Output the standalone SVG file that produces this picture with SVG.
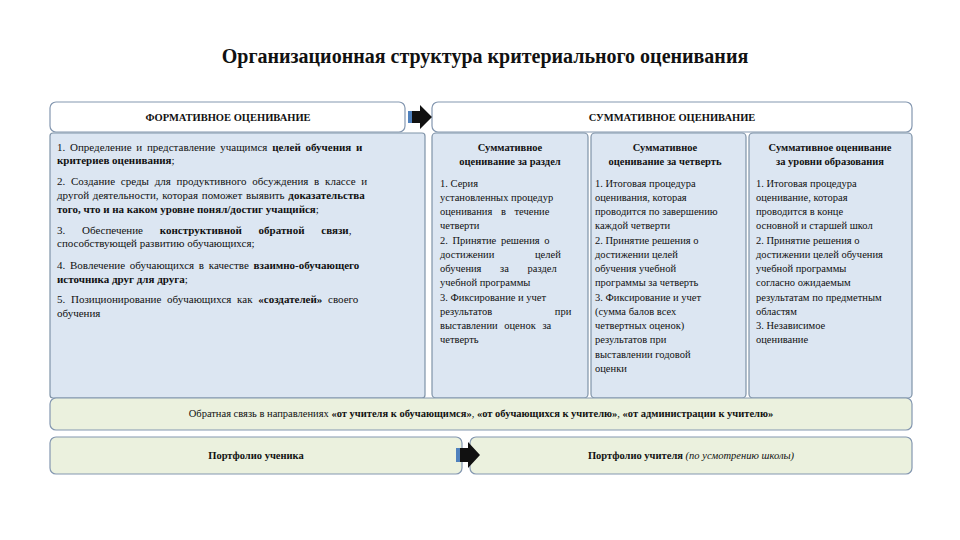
<svg xmlns="http://www.w3.org/2000/svg" width="960" height="540" viewBox="0 0 960 540" font-family="'Liberation Serif', 'DejaVu Serif', serif">
<style>
text{font-family:'Liberation Serif','DejaVu Serif',serif;font-size:10.5px;fill:#111}
.f{font-size:11px}
.b{font-weight:bold}
.hd{fill:#fff;stroke:#8497b0;stroke-width:1.2}
.bl{fill:#dce6f2;stroke:#7f93a8;stroke-width:1.2}
.gr{fill:#ebf1de;stroke:#8497b0;stroke-width:1.2}
.c{text-anchor:middle}
</style>
<rect width="960" height="540" fill="#fff"/>
<text x="485" y="63" class="b c" style="font-size:20px">Организационная структура критериального оценивания</text>
<g id="formative-header"><rect class="hd" x="50" y="102" width="355" height="30" rx="6"/><text x="228" y="121" class="b c">ФОРМАТИВНОЕ ОЦЕНИВАНИЕ</text></g>
<g id="summative-header"><rect class="hd" x="432" y="102" width="480" height="30" rx="6"/><text x="672" y="121" class="b c">СУММАТИВНОЕ ОЦЕНИВАНИЕ</text></g>
<g id="formative-body"><rect class="bl" x="50" y="133" width="375" height="265" rx="3"/>
<text x="57" y="151" class="f" word-spacing="2">1. Определение и представление учащимся <tspan class="b">целей обучения и</tspan></text>
<text x="57" y="164" class="b f">критериев оценивания<tspan font-weight="normal">;</tspan></text>
<text x="57" y="185" class="f" word-spacing="3">2. Создание среды для продуктивного обсуждения в классе и</text>
<text x="57" y="199" class="f" word-spacing="1">другой деятельности, которая поможет выявить <tspan class="b">доказательства</tspan></text>
<text x="57" y="213" class="b f">того, что и на каком уровне понял/достиг учащийся<tspan font-weight="normal">;</tspan></text>
<text x="57" y="234" class="f" word-spacing="14">3. Обеспечение <tspan class="b">конструктивной обратной связи</tspan>,</text>
<text x="57" y="247" class="f">способствующей развитию обучающихся;</text>
<text x="57" y="269" class="f" word-spacing="2">4. Вовлечение обучающихся в качестве <tspan class="b">взаимно-обучающего</tspan></text>
<text x="57" y="283" class="b f">источника друг для друга<tspan font-weight="normal">;</tspan></text>
<text x="57" y="303" class="f" word-spacing="3">5. Позиционирование обучающихся как <tspan class="b">«создателей»</tspan> своего</text>
<text x="57" y="317" class="f">обучения</text></g>
<g id="col-razdel"><rect class="bl" x="432" y="133" width="156" height="265" rx="4"/>
<text class="b c" x="510" y="151">Суммативное</text><text class="b c" x="510" y="165">оценивание за раздел</text>
<text x="440" y="187">1.  Серия</text><text x="440" y="201">установленных процедур</text><text x="440" y="215" word-spacing="6">оценивания в течение</text><text x="440" y="229">четверти</text>
<text x="440" y="244" word-spacing="2">2.  Принятие решения о</text><text x="440" y="258" word-spacing="38">достижении целей</text><text x="440" y="272" word-spacing="16">обучения за раздел</text><text x="440" y="286">учебной программы</text>
<text x="440" y="301">3.  Фиксирование и учет</text><text x="440" y="315" word-spacing="60">результатов при</text><text x="440" y="329" word-spacing="4">выставлении оценок за</text><text x="440" y="343">четверть</text></g>
<g id="col-chetvert"><rect class="bl" x="591" y="133" width="155" height="265" rx="4"/>
<text class="b c" x="665" y="151">Суммативное</text><text class="b c" x="665" y="165">оценивание за четверть</text>
<text x="595" y="187">1.   Итоговая процедура</text><text x="595" y="201">оценивания, которая</text><text x="595" y="215">проводится по завершению</text><text x="595" y="229">каждой четверти</text>
<text x="595" y="244">2.   Принятие решения о</text><text x="595" y="258">достижении целей</text><text x="595" y="272">обучения учебной</text><text x="595" y="286">программы за четверть</text>
<text x="595" y="301">3.   Фиксирование и учет</text><text x="595" y="315">(сумма балов всех</text><text x="595" y="329">четвертных оценок)</text><text x="595" y="343">результатов при</text><text x="595" y="358">выставлении годовой</text><text x="595" y="372">оценки</text></g>
<g id="col-uroven"><rect class="bl" x="749" y="133" width="163" height="265" rx="4"/>
<text class="b c" x="830" y="151">Суммативное оценивание</text><text class="b c" x="830" y="165">за уровни образования</text>
<text x="756" y="187">1.   Итоговая процедура</text><text x="756" y="201">оценивание, которая</text><text x="756" y="215">проводится в конце</text><text x="756" y="229">основной и старшей школ</text>
<text x="756" y="244">2.   Принятие решения о</text><text x="756" y="258">достижении целей обучения</text><text x="756" y="272">учебной программы</text><text x="756" y="286">согласно ожидаемым</text>
<text x="756" y="301">результатам по предметным</text><text x="756" y="315">областям</text><text x="756" y="329">3.   Независимое</text><text x="756" y="343">оценивание</text></g>
<g id="feedback"><rect class="gr" x="50" y="398" width="862" height="32" rx="6"/>
<text class="c" x="481" y="417">Обратная связь в направлениях <tspan class="b">«от учителя к обучающимся»</tspan>, <tspan class="b">«от обучающихся к учителю»</tspan>, <tspan class="b">«от администрации к учителю»</tspan></text></g>
<g id="portfolio-student"><rect class="gr" x="50" y="437" width="412" height="37" rx="6"/><text class="b c" x="256" y="459">Портфолио ученика</text></g>
<g id="portfolio-teacher"><rect class="gr" x="470" y="437" width="442" height="37" rx="6"/><text class="c" x="691" y="459"><tspan class="b">Портфолио учителя</tspan> <tspan font-style="italic">(по усмотрению школы)</tspan></text></g>
<g id="connectors">
<path d="M408 111h12v-6l12 12-12 12v-6h-12z" fill="#111"/>
<rect x="408" y="111" width="4" height="12" fill="#4f81bd"/>
<path d="M456 448h12v-6l12 13-12 13v-6h-12z" fill="#111"/>
<rect x="456" y="448" width="4" height="14" fill="#4f81bd"/>
</g>
</svg>
